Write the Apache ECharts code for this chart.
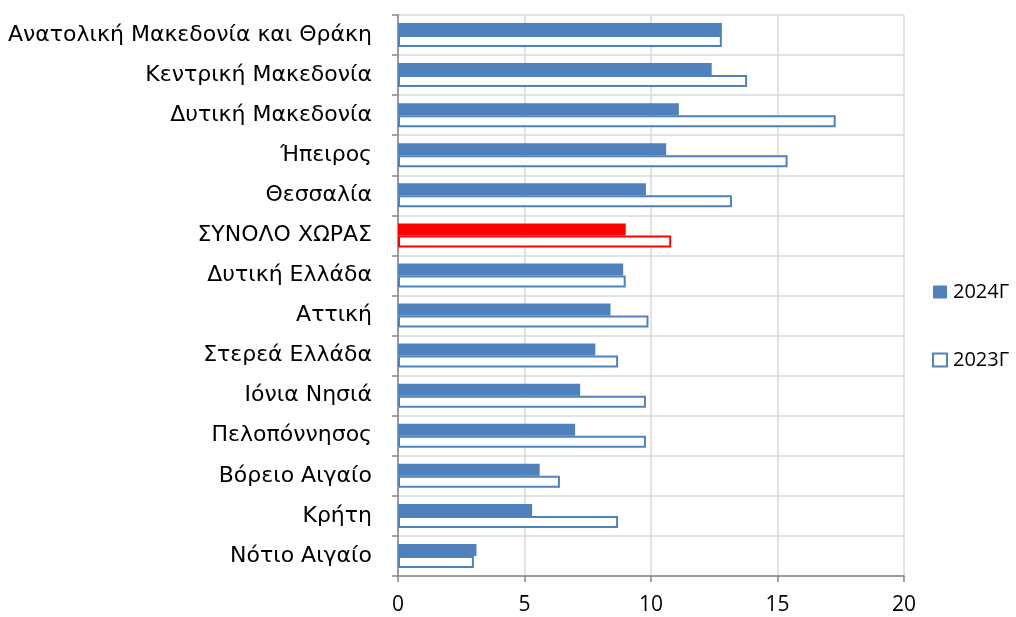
<!DOCTYPE html>
<html>
<head>
<meta charset="utf-8">
<script src="https://cdn.jsdelivr.net/npm/echarts@6/dist/echarts.min.js"></script>
<style>html,body{margin:0;padding:0;background:#fff;}#c{width:1016px;height:617px;}</style>
</head>
<body>
<div id="c"></div>
<script>
const categories = ["Ανατολική Μακεδονία και Θράκη","Κεντρική Μακεδονία","Δυτική Μακεδονία","Ήπειρος","Θεσσαλία","ΣΥΝΟΛΟ ΧΩΡΑΣ","Δυτική Ελλάδα","Αττική","Στερεά Ελλάδα","Ιόνια Νησιά","Πελοπόννησος","Βόρειο Αιγαίο","Κρήτη","Νότιο Αιγαίο"];
const values2024 = [12.8,12.4,11.1,10.6,9.8,9.0,8.9,8.4,7.8,7.2,7.0,5.6,5.3,3.1];
const values2023 = [12.8,13.8,17.3,15.4,13.2,10.8,9.0,9.9,8.7,9.8,9.8,6.4,8.7,3.0];
const seriesNames = ["2024Γ","2023Γ"];
const xTicks = [0,5,10,15,20];
const highlight = "ΣΥΝΟΛΟ ΧΩΡΑΣ";

const blue = "#4F81BD", red = "#FF0000";

const d2024 = values2024.map((v,i)=> categories[i]===highlight ? {value:v,itemStyle:{color:red}} : v);
const d2023 = values2023.map((v,i)=> categories[i]===highlight ? {value:v,itemStyle:{borderColor:red}} : v);

const chart = echarts.init(document.getElementById('c'), null, {renderer:'canvas'});
chart.setOption({
  animation:false,
  backgroundColor:'#fff',
  grid:{left:398,right:112,top:15,bottom:41,containLabel:false},
  legend:{
    orient:'vertical', left:927, top:277, itemWidth:14, itemHeight:13, itemGap:48, icon:'rect',
    textStyle:{fontFamily:'Open Sans',fontSize:20,color:'#000',padding:[0,0,0,1]},
    data:seriesNames
  },
  xAxis:{
    type:'value', min:xTicks[0], max:xTicks[xTicks.length-1], interval:5,
    axisLine:{show:true,lineStyle:{color:'#868686',width:1.5}},
    axisTick:{show:true,length:6,lineStyle:{color:'#868686',width:1.5}},
    axisLabel:{fontFamily:'Open Sans',fontSize:21,color:'#000',margin:19},
    splitLine:{show:true,lineStyle:{color:'#D9D9D9',width:1.5}}
  },
  yAxis:{
    type:'category', data:categories, inverse:true,
    axisLine:{show:true,lineStyle:{color:'#868686',width:1.5}},
    axisTick:{show:true,length:6,inside:false,lineStyle:{color:'#868686',width:1.5}},
    axisLabel:{fontFamily:'DejaVu Sans',fontSize:22,color:'#000',margin:26},
    splitLine:{show:true,lineStyle:{color:'#D9D9D9',width:1.5}}
  },
  series:[
    {name:seriesNames[0],type:'bar',data:d2024,barWidth:12,barGap:'0%',
     itemStyle:{color:blue,borderWidth:0}},
    {name:seriesNames[1],type:'bar',data:d2023,barWidth:12,barGap:'0%',
     itemStyle:{color:'#fff',borderColor:blue,borderWidth:2}}
  ]
});
</script>
</body>
</html>
